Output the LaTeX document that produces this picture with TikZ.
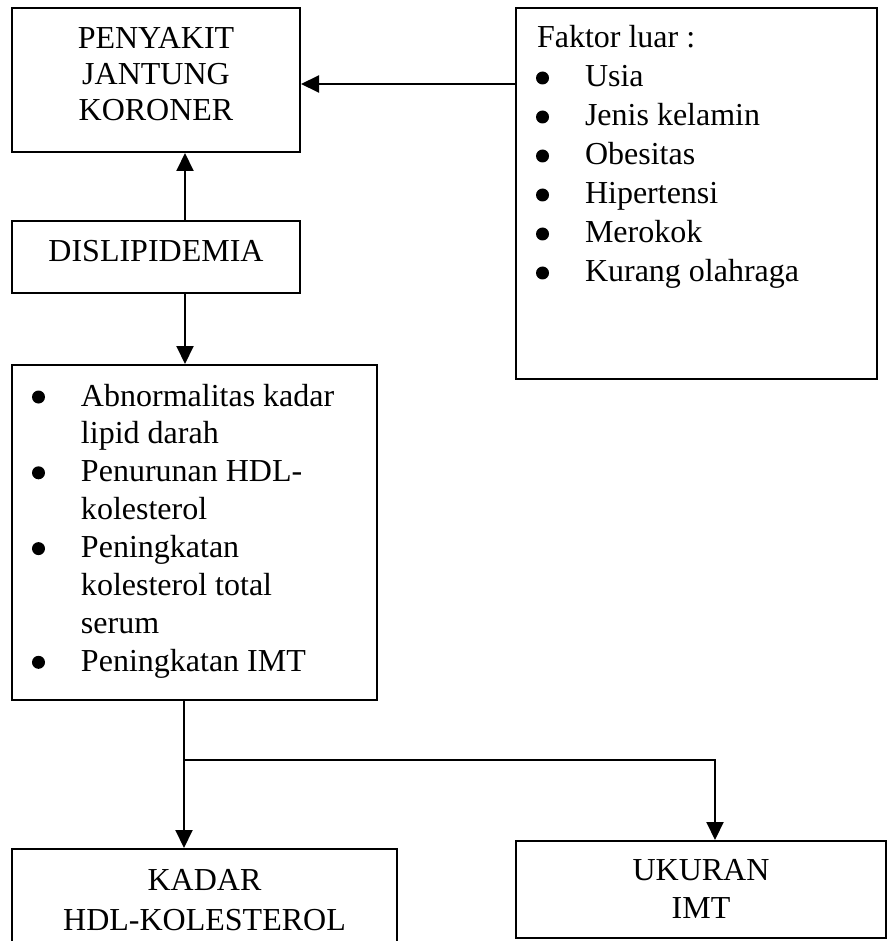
\documentclass[tikz,border=0pt]{standalone}
\usepackage{fontspec}
\setmainfont{Liberation Serif}
\usetikzlibrary{arrows.meta}
\newcommand\bx[4]{\parbox[c][#2pt][t]{#1pt}{\baselineskip=#3pt\relax #4}}
\newcommand\dotmark{\tikz[baseline={(0pt,-9pt)}]\fill (0pt,0pt) circle[radius=6.5pt];}
\newcommand\itm[1]{\makebox[69pt][l]{\hspace*{20pt}\dotmark}#1\par}
\newcommand\cnt[1]{\hspace*{69pt}#1\par}
\tikzset{
  box/.style={draw, line width=2pt, inner sep=0pt, anchor=north west,
    font=\fontsize{32pt}{36pt}\selectfont},
  arr/.style={draw, line width=2pt, -{Triangle[length=18pt,width=17pt]}},
  ln/.style={draw, line width=2pt}
}
\begin{document}
\begin{tikzpicture}[x=1pt,y=-1pt]
\clip (0,0) rectangle (887,941);
\fill[white] (0,0) rectangle (887,941);
\node[box] (pjk) at (11,7) {\bx{288}{144}{36}{\centering\rule{0pt}{41pt}PENYAKIT\\JANTUNG\\KORONER\par}};
\node[box] (dis) at (11,220) {\bx{288}{72}{36}{\centering\rule{0pt}{40pt}DISLIPIDEMIA\par}};
\node[box] (list) at (11,364) {\bx{365}{335}{37.9}{%
  \itm{\rule{0pt}{41pt}Abnormalitas kadar}
  \cnt{lipid darah}
  \itm{Penurunan HDL-}
  \cnt{kolesterol}
  \itm{Peningkatan}
  \cnt{kolesterol total}
  \cnt{serum}
  \itm{Peningkatan IMT}}};
\node[box] (faktor) at (515,7) {\bx{361}{371}{39}{%
  \rule{0pt}{40pt}\hspace*{21pt}Faktor luar :\par
  \itm{Usia}
  \itm{Jenis kelamin}
  \itm{Obesitas}
  \itm{Hipertensi}
  \itm{Merokok}
  \itm{Kurang olahraga}}};
\node[box] (kadar) at (11,848) {\bx{385}{150}{40}{\centering\rule{0pt}{41pt}KADAR\\HDL-KOLESTEROL\par}};
\node[box] (ukuran) at (515,840) {\bx{370}{97}{38}{\centering\rule{0pt}{39pt}UKURAN\\IMT\par}};
\coordinate (j) at (184,760);
\draw[arr] ([yshift=-4pt]faktor.west |- pjk.east) -- ([yshift=-4pt]pjk.east);
\draw[arr] ([xshift=29pt]dis.north) -- ([xshift=29pt]pjk.south);
\draw[arr] ([xshift=29pt]dis.south) -- ([xshift=29pt]dis.south |- list.north);
\draw[arr] (list.south -| j) -- (j |- kadar.north);
\draw[arr] (j) -| ([xshift=14pt]ukuran.north);
\end{tikzpicture}
\end{document}
